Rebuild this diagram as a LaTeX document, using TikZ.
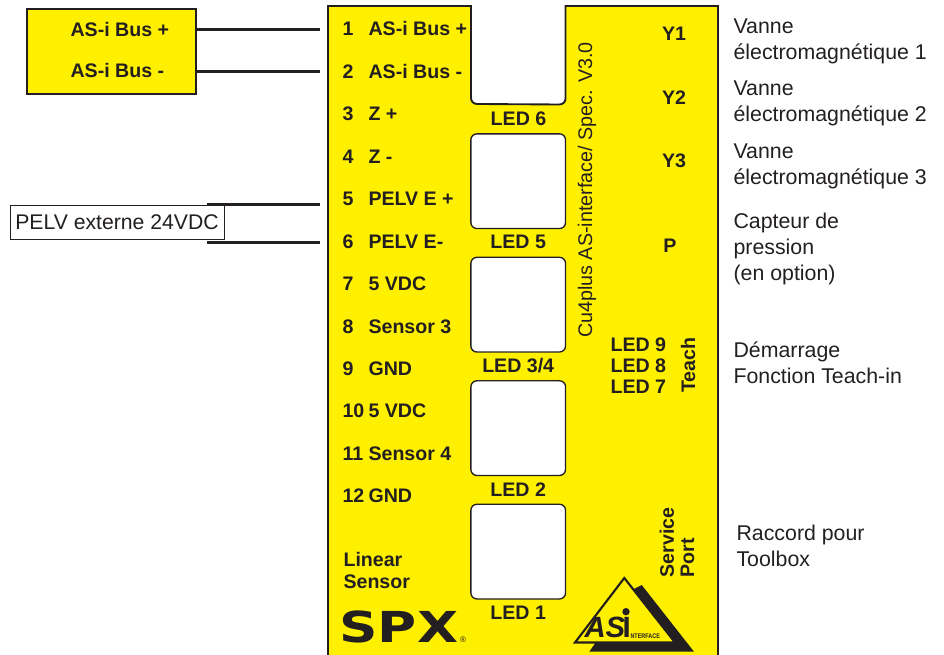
\documentclass[tikz,border=0pt]{standalone}
\usepackage{fontspec}
\setmainfont{Liberation Sans}
\newfontfamily\logofont{DejaVu Sans}
\usetikzlibrary{positioning}
\definecolor{panelyellow}{HTML}{FFF000}
\definecolor{inkblack}{HTML}{231F20}

\begin{document}
\begin{tikzpicture}[x=0.75pt,y=-0.75pt,thick,color=inkblack,node distance=92.6pt,
  bold text/.style={font=\fontsize{14.7}{17}\selectfont\bfseries,inner sep=0pt},
  plain text/.style={font=\fontsize{16}{19.5}\selectfont,inner sep=0pt,align=left,anchor=west},
  term num/.style={bold text,anchor=west,text height=10.5pt,text depth=0pt},
  term text/.style={term num},
  term below/.style={below=31.83pt of #1.west,anchor=west},
  term right/.style={right=19.5pt of #1.west,anchor=west},
  window/.style={rectangle,draw,fill=white,line width=1pt,rounded corners=4.5pt,
    minimum width=71pt,minimum height=71pt,inner sep=0pt},
  led name/.style={bold text,node distance=45.8pt},
  wire/.style={line width=2.4pt},
  thin wire/.style={line width=2pt},
  ext box/.style={rectangle,draw,line width=1.2pt,inner sep=0pt}]

  \useasboundingbox (0,0) rectangle (944,655);

  % panel with the open slot at the top
  \path[fill=panelyellow,draw,line width=1.4pt] (328,658) -- (328,6) -- (471,6)
    -- (471,98) arc[start angle=180,end angle=90,radius=6] -- (559.5,104.5)
    arc[start angle=90,end angle=0,radius=6] -- (565.5,6) -- (718,6) -- (718,658);

  % outside boxes
  \node[ext box,fill=panelyellow,minimum width=127pt,minimum height=64pt] (Bus) at (111.5,51.5) {};
  \node[bold text,anchor=west] (BusP) at (70,29) {AS-i Bus +};
  \node[bold text,anchor=west] (BusM) at (70,71) {AS-i Bus -};
  \coordinate (W1) at (320,29.5);
  \coordinate (W2) at (320,71.5);
  \coordinate (W5) at (320,204.5);
  \coordinate (W6) at (320,242.5);
  \coordinate (W5S) at (207,204.5);
  \coordinate (W6S) at (207,242.5);

  \draw[wire] (Bus.east |- W1) -- (W1);
  \draw[thin wire] (Bus.east |- W2) -- (W2);
  \draw[wire] (W5S) -- (W5);
  \draw[wire] (W6S) -- (W6);

  \node[ext box,fill=white,line width=0.7pt,minimum width=160.5pt,minimum height=25pt,
    font=\fontsize{15.9}{18}\selectfont] (PELV) at (117,222.5) {PELV externe 24VDC};

  % terminals
  \node[term num] (P1) at (342,29) {1};
  \node[term num,term below=P1] (P2) {2};
  \node[term num,term below=P2] (P3) {3};
  \node[term num,term below=P3] (P4) {4};
  \node[term num,term below=P4] (P5) {5};
  \node[term num,term below=P5] (P6) {6};
  \node[term num,term below=P6] (P7) {7};
  \node[term num,term below=P7] (P8) {8};
  \node[term num,term below=P8] (P9) {9};
  \node[term num,term below=P9] (P10) {10};
  \node[term num,term below=P10] (P11) {11};
  \node[term num,term below=P11] (P12) {12};
  \node[term text,term right=P1] (T1) {AS-i Bus +};
  \node[term text,term right=P2] (T2) {AS-i Bus -};
  \node[term text,term right=P3] (T3) {Z +};
  \node[term text,term right=P4] (T4) {Z -};
  \node[term text,term right=P5] (T5) {PELV E +};
  \node[term text,term right=P6] (T6) {PELV E-};
  \node[term text,term right=P7] (T7) {5 VDC};
  \node[term text,term right=P8] (T8) {Sensor 3};
  \node[term text,term right=P9] (T9) {GND};
  \node[term text,term right=P10] (T10) {5 VDC};
  \node[term text,term right=P11] (T11) {Sensor 4};
  \node[term text,term right=P12] (T12) {GND};
  \node[bold text,anchor=west,align=left] (Linear) at (343,570.5) {Linear\\Sensor};

  % windows and their LEDs
  \node[window] (W5B) at (518.2,181.2) {};
  \node[window] (W34B) [below of=W5B] {};
  \node[window] (W2B) [below of=W34B] {};
  \node[window] (W1B) [below of=W2B] {};
  \node[bold text] (LED6) at (518.5,118.5) {LED 6};
  \node[led name] (LED5) [below of=W5B] {LED 5};
  \node[led name] (LED34) [below of=W34B] {LED 3/4};
  \node[led name] (LED2) [below of=W2B] {LED 2};
  \node[led name] (LED1) [below of=W1B] {LED 1};

  % right half of the panel
  \node[font=\fontsize{14.8}{18}\selectfont,inner sep=0pt,rotate=90] (Spec) at (587,190)
    {Cu4plus AS-interface/ Spec. V3.0};
  \node[bold text] (Y1) at (674,34) {Y1};
  \node[bold text] (Y2) at (674,98) {Y2};
  \node[bold text] (Y3) at (674,161) {Y3};
  \node[bold text] (P) at (670,246) {P};
  \node[bold text,anchor=west] (LED9) at (610,345) {LED 9};
  \node[bold text,anchor=west] (LED8) at (610,365.5) {LED 8};
  \node[bold text,anchor=west] (LED7) at (610,386.5) {LED 7};
  \node[bold text,rotate=90] (Teach) at (688,365) {Teach};
  \node[bold text,font=\fontsize{14.7}{15.2}\selectfont\bfseries,rotate=90,align=left] (Service) at (677,542.5) {Service\\Port};

  % legend on the right
  \node[plain text] (Vanne1) at (733,41) {Vanne\\électromagnétique 1};
  \node[plain text] (Vanne2) at (733,103) {Vanne\\électromagnétique 2};
  \node[plain text] (Vanne3) at (733,166) {Vanne\\électromagnétique 3};
  \node[plain text] (Capteur) at (733,249) {Capteur de\\pression\\(en option)};
  \node[plain text] (Demarrage) at (733,363) {Démarrage\\Fonction Teach-in};
  \node[plain text] (Raccord) at (736,546) {Raccord pour\\Toolbox};

  % SPX mark
  \node[font=\fontsize{32}{32}\logofont\bfseries,inner sep=0pt,anchor=west,text height=23.2pt,text depth=0pt]
    (SPX) at (339,627.5) {\scalebox{1.25}[1]{SPX}};
  \node[font=\fontsize{6}{6}\selectfont,inner sep=0pt] (Reg) at (463,640) {®};

  % AS-Interface mark
  \path[fill] (641.7,585) -- (694,651.7) -- (589.3,651.7) -- (596,642) -- (670,642) -- (632,590) -- cycle;
  \path[draw,line width=1.6pt,fill=panelyellow] (624.3,578) -- (675,642.5) -- (575,642.5) -- cycle;
  \node[font=\fontsize{22}{22}\selectfont\bfseries\itshape,inner sep=0pt,anchor=west] (AS) at (584,627) {AS};
  \node[font=\fontsize{22}{22}\selectfont\bfseries,inner sep=0pt,anchor=west] (ASI) at (622,627) {I};
  \node[font=\fontsize{5}{5}\selectfont\bfseries,inner sep=0pt,anchor=west] (INT) at (630,636) {\scalebox{.82}[1]{NTERFACE}};
  \fill (626,611.7) circle[radius=3.7];
\end{tikzpicture}
\end{document}
